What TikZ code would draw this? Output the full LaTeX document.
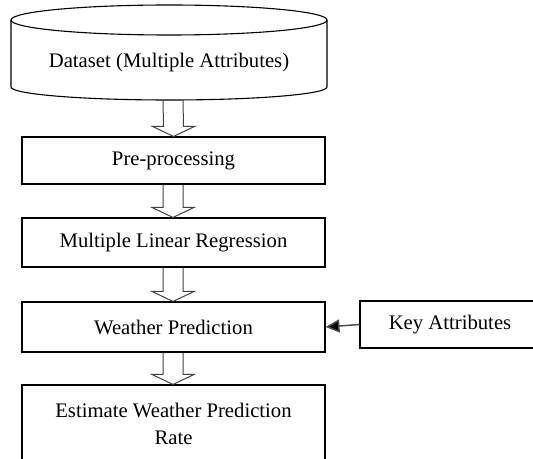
\documentclass[tikz,border=0pt]{standalone}
\usepackage{fontspec}
\setmainfont{Liberation Serif}
\usetikzlibrary{calc,arrows.meta}

\newcommand{\hollowarrow}[2]{%
  \draw[blockarrow] ($(#1)+(-10,0)$) -- ($(#2)+(-10,-10)$) -- ($(#2)+(-21,-10)$)
    -- (#2) -- ($(#2)+(21,-10)$) -- ($(#2)+(10,-10)$) -- ($(#1)+(10,0)$);}

\begin{document}
\begin{tikzpicture}[x=1bp, y=-1bp,
  every node/.style = {font=\fontsize{20.7bp}{27bp}\selectfont, align=center},
  procbox/.style = {shape=rectangle, draw, line width=1.1bp, inner sep=0pt,
    minimum width=303bp},
  blockarrow/.style = {draw=black!75, line width=1bp, line join=miter}
  ]
  \useasboundingbox (0,0) rectangle (533,459);
  \clip (0,0) rectangle (533,459);
  % dataset cylinder
  \draw[line width=1.1bp] (11,20) -- (11,87)
    arc[start angle=180, end angle=0, x radius=158, y radius=13] -- (327,20);
  \draw[line width=1.1bp] (169,20) ellipse [x radius=158, y radius=15];
  \node (dataset) at (169,63) {Dataset (Multiple Attributes)};
  \coordinate (dsbottom) at (173,100);

  \node[procbox, minimum height=47bp] (pre) at (173.5,160.5) {Pre-processing};
  \node[procbox, minimum height=49bp] (mlr) at (173.5,242.5) {Multiple Linear Regression};
  \node[procbox, minimum height=50bp] (wp) at (173.5,327) {Weather Prediction};
  \node[procbox, minimum height=78bp] (est) at (173.5,424) {Estimate Weather Prediction\\Rate};
  \node[procbox, minimum width=180bp, minimum height=47bp] (key) at (450,324.5) {Key Attributes};

  \hollowarrow{dsbottom}{pre.north}
  \hollowarrow{$(pre.south)+(-0.5,0)$}{$(mlr.north)+(-0.5,0)$}
  \hollowarrow{$(mlr.south)+(-0.5,0)$}{$(wp.north)+(-0.5,0)$}
  \hollowarrow{$(wp.south)+(-0.5,0)$}{$(est.north)+(-0.5,0)$}
  \draw[draw=black!70, line width=1.5bp, -{Triangle[length=14bp, width=13bp, fill=black]}]
    (key.west) -- (wp.east);
\end{tikzpicture}
\end{document}
